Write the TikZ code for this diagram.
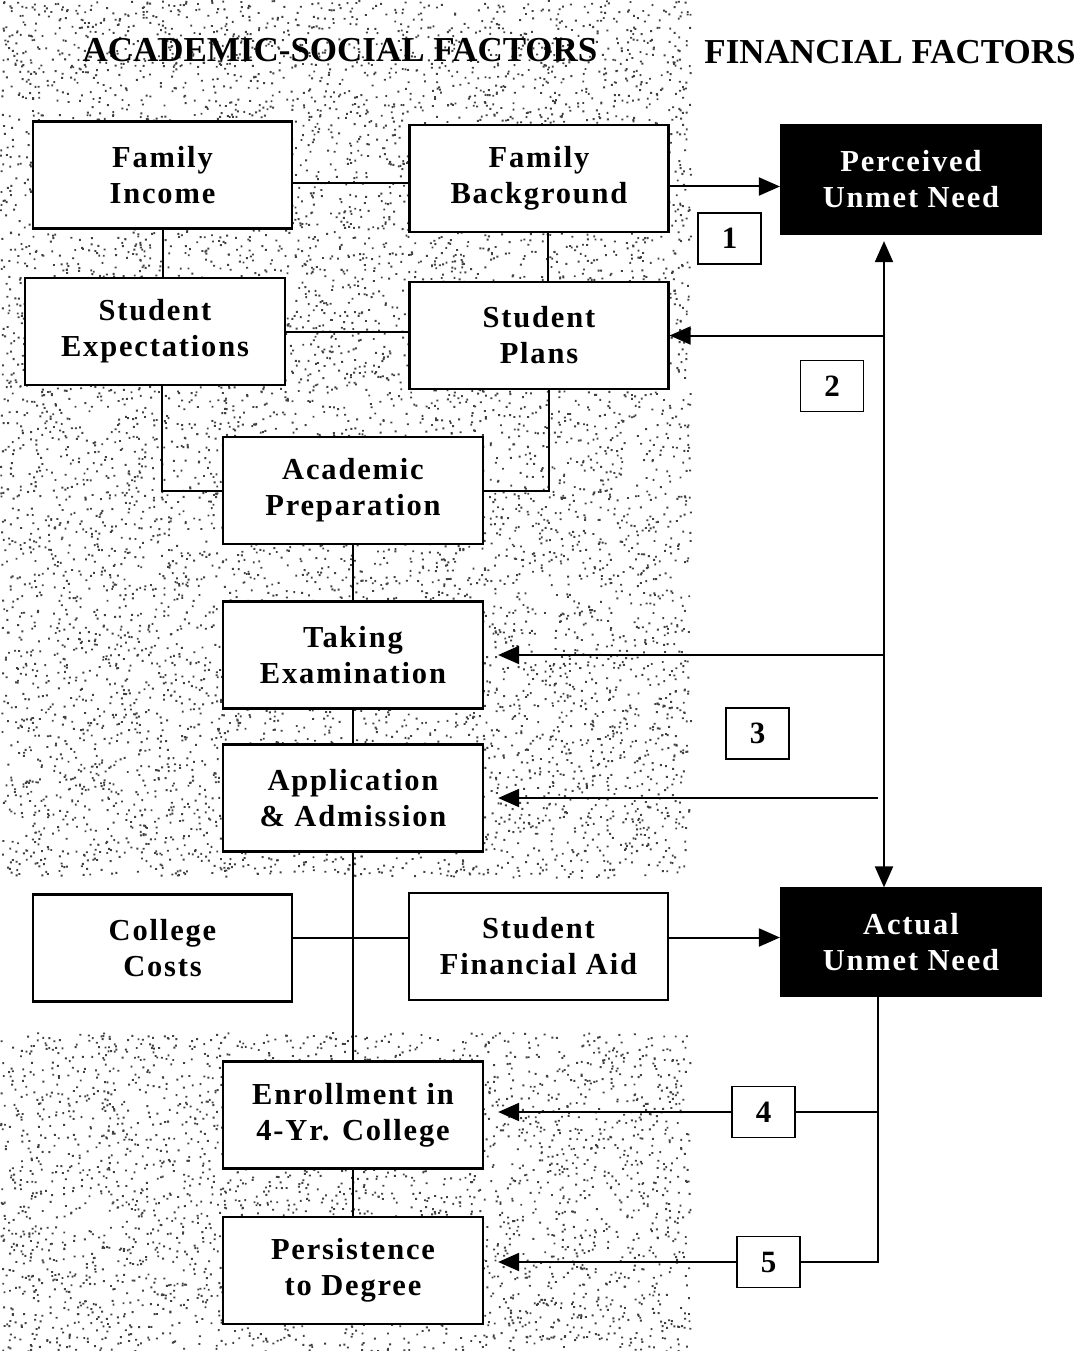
\documentclass[tikz,border=0pt]{standalone}
\usepackage{fontspec}
\setmainfont{Liberation Serif}
\newfontfamily\boxfont[LetterSpace=6]{Liberation Serif}
\usetikzlibrary{arrows.meta}
\begin{document}
\begin{tikzpicture}[x=1pt,y=-1pt,
  stepbox/.style={draw, line width=2.2pt, fill=white, minimum width=259pt,
    minimum height=107pt, inner sep=0pt, align=center,
    font=\boxfont\bfseries\fontsize{30.5}{36}\selectfont},
  needbox/.style={stepbox, fill=black, text=white},
  numbox/.style={draw, line width=1.8pt, fill=white, minimum width=63pt,
    minimum height=51pt, inner sep=0pt,
    font=\bfseries\fontsize{31}{36}\selectfont},
  link/.style={line width=2pt},
  arrow/.style={link, -{Triangle[length=21pt,width=18pt]}},
  head/.style={font=\bfseries\fontsize{35}{40}\selectfont}
]
\useasboundingbox (0,0) rectangle (1075,1351);

% speckled backdrop of the academic-social area
\pgfmathsetseed{42}
\begin{scope}[black!75]
\foreach \j in {1,...,880}{
  \fill \foreach \i in {1,...,10}{ (rnd*690, rnd*877) rectangle ++(1.9,1.9) }; }
\foreach \j in {1,...,320}{
  \fill \foreach \i in {1,...,10}{ (rnd*690, 1032+rnd*319) rectangle ++(1.9,1.9) }; }
\end{scope}

% column headings
\node[head] (ha) at (340,50) {ACADEMIC-SOCIAL FACTORS};
\node[head] (hf) at (890,52) {FINANCIAL FACTORS};

% boxes
\node[stepbox] (fi) at (162.5,175) {Family\\Income};
\node[stepbox] (fb) at (539,178.5) {Family\\Background};
\node[needbox, minimum width=260pt, minimum height=109pt] (pun) at (911,179.5) {Perceived\\Unmet Need};
\node[numbox] (n1) at (729.5,238.5) {1};
\node[stepbox, minimum width=260pt] (se) at (155,331.5) {Student\\Expectations};
\node[stepbox] (sp) at (539,335.5) {Student\\Plans};
\node[numbox] (n2) at (832,386) {2};
\node[stepbox, minimum width=260pt] (ap) at (353,490.5) {Academic\\Preparation};
\node[stepbox, minimum width=260pt] (te) at (353,655) {Taking\\Examination};
\node[stepbox, minimum width=260pt] (aa) at (353,798) {Application\\\& Admission};
\node[numbox] (n3) at (757.5,733.5) {3};
\node[stepbox] (cc) at (162.5,948) {College\\Costs};
\node[stepbox] (sfa) at (538.5,946.5) {Student\\Financial Aid};
\node[needbox, minimum width=260pt] (aun) at (911,942) {Actual\\Unmet Need};
\node[stepbox, minimum width=260pt] (en) at (353,1115) {Enrollment in\\4-Yr. College};
\node[numbox] (n4) at (763.5,1112) {4};
\node[stepbox, minimum width=260pt] (pd) at (353,1270.5) {Persistence\\to Degree};
\node[numbox] (n5) at (768.5,1262) {5};

% academic-social links
\draw[link] ([yshift=-8pt]fi.east) -- ([yshift=-8pt]fi.east -| fb.west);
\draw[arrow] ([yshift=-8pt]fb.east) -- ([yshift=-8pt]fb.east -| pun.west);
\draw[link] (fi.south) -- (fi.south |- se.north);
\draw[link] ([xshift=9pt]fb.south) -- ([xshift=9pt]fb.south |- sp.north);
\draw[link] (se.east) -- (se.east -| sp.west);
\draw[link] ([xshift=7pt]se.south) |- (ap.west);
\draw[link] ([xshift=10pt]sp.south) |- (ap.east);
\draw[link] (ap.south) -- (te.north);
\draw[link] (te.south) -- (aa.north);
\draw[link] (aa.south) -- (en.north);
\draw[link] (en.south) -- (pd.north);
\draw[link] ([yshift=10pt]cc.east) -- ([yshift=10pt]cc.east -| sfa.west);
\draw[arrow] ([yshift=9pt]sfa.east) -- ([yshift=9pt]sfa.east -| aun.west);

% financial links
\coordinate (fx) at ([xshift=-27pt,yshift=-6pt]pun.south);
\coordinate (fy) at ([xshift=-33pt]pun.south);
\coordinate (gx) at ([xshift=-33pt]aun.south);
\draw[link, {Triangle[length=21pt,width=18pt]}-{Triangle[length=21pt,width=18pt]}] (fx) -- (fx |- aun.north);
\draw[arrow] (fx |- sp.east) -- (sp.east);
\draw[arrow, shorten >=14pt] (fx |- te.east) -- (te.east);
\draw[arrow, shorten >=14pt] (fy |- aa.east) -- (aa.east);
\draw[link] (gx) -- (gx |- n5.east) -- (n5.east);
\draw[link] (gx |- n4.east) -- (n4.east);
\draw[arrow, shorten >=14pt] (n4.west) -- (n4.west -| en.east);
\draw[arrow, shorten >=14pt] (n5.west) -- (n5.west -| pd.east);
\end{tikzpicture}
\end{document}
